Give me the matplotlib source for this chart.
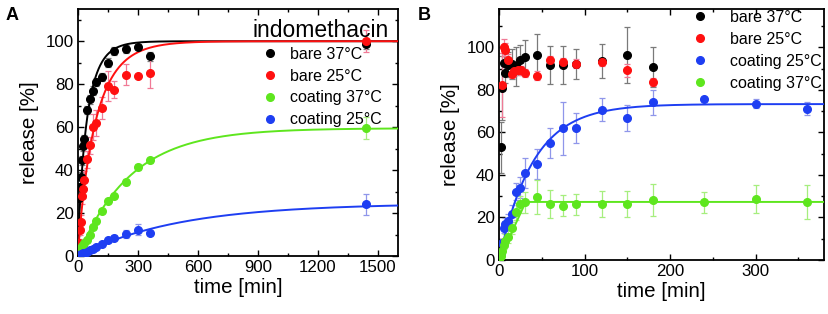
import numpy as np
import matplotlib
matplotlib.use("Agg")
import matplotlib.pyplot as plt
from matplotlib.ticker import MultipleLocator

plt.rcParams['font.family'] = ['Liberation Sans', 'DejaVu Sans']

# ---------------- Panel A data (indomethacin) ----------------
tA = [5, 10, 15, 20, 25, 30, 45, 60, 75, 90, 120, 150, 180, 240, 300, 360, 1440]
bare37_A = [27, 32, 37, 44.5, 51, 54.5, 68, 73, 77, 81, 83.4, 90, 95.5, 96.4, 97.5, 93, 98.5]
bare37_A_err = [2, 2, 2, 2, 2, 2, 2, 2, 2, 2, 2, 2, 2, 2, 1, 2, 2]
bare25_A = [6, 12, 16, 28, 31, 35.5, 45, 51.5, 60, 62, 69, 79, 77.5, 84.5, 83.8, 85.3, 100]
bare25_A_err = [2, 2, 3, 4, 4, 4, 4, 4, 6, 6, 5, 7, 4, 5, 0, 7, 5]
coat37_A = [1.5, 2.5, 3.5, 4.5, 5, 6, 7.5, 10, 13.5, 16.5, 21, 25.5, 28, 34.5, 41.5, 44.5, 59.5]
coat37_A_err = [0.5, 0.5, 0.5, 0.5, 0.5, 0.5, 0.5, 0.5, 1, 1, 1, 1, 1, 1.5, 1.5, 1, 5]
coat25_A = [0.3, 0.6, 0.8, 1, 1.2, 1.4, 2, 2.7, 3.3, 4, 5.6, 7.3, 8.6, 10.3, 12.2, 10.8, 24]
coat25_A_err = [0.2, 0.2, 0.2, 0.2, 0.2, 0.2, 0.3, 0.3, 0.5, 0.5, 0.5, 0.8, 1, 2, 2.5, 1, 5]

# fit parameters (plateau, rate, shape) of the fitted release curves
fitA_bare37 = (100, 0.0226, 0.85)
fitA_bare25 = (100, 0.0112, 0.90)
fitA_coat37 = (59.5, 0.0038, 1.0)
fitA_coat25 = (24.5, 0.0020, 1.0)

# ---------------- Panel B data ----------------
tB_bare37 = [2, 4, 5.5, 7.5, 10, 15, 20, 25, 30, 45, 60, 75, 90, 120, 150, 180]
bare37_B = [53, 81, 92.5, 88, 91.8, 92, 91, 94, 95.5, 96.6, 91.8, 91.8, 92.3, 93.7, 96.4, 90.6]
bare37_B_err = [12, 15, 5, 5, 6, 7, 9, 7, 8, 9.5, 9, 9, 7, 8, 13, 9.5]
tB_bare25 = [3.5, 5.5, 7.5, 10, 15, 18, 22, 26, 30, 45, 60, 75, 90, 120, 150, 180]
bare25_B = [82.4, 100, 98.9, 93.9, 87.6, 88.7, 89.5, 89.2, 87.9, 86.7, 93.9, 93.1, 92.3, 93.1, 89.2, 83.7]
bare25_B_err = [15, 4, 3, 3, 2, 2, 2, 2, 2, 2, 2, 2, 2, 2, 3, 2]
tB_coat = [0, 2, 3.5, 5.5, 7.5, 10, 15, 20, 25, 30, 45, 60, 75, 90, 120, 150, 180, 240, 300, 360]
coat25_B = [0, 3.1, 7.8, 14.9, 16.8, 18.4, 21.7, 32.2, 34, 40.8, 45.2, 55, 62, 62, 70.7, 66.7, 74.1, 75.7, 73.5, 71.1]
coat25_B_err = [0, 1, 2, 2, 3, 3, 4, 4, 5, 7, 7, 7, 12.5, 7, 5.5, 6, 6, 1, 2, 3]
coat37_B = [0, 2, 4, 7, 9, 11, 15, 22.8, 26.2, 27.2, 29.8, 26.4, 25.6, 26.2, 26.4, 26.4, 28.3, 27.2, 28.7, 27.2]
coat37_B_err = [0, 1, 2, 2, 3, 3, 3, 4, 4, 5, 8, 6.5, 5, 5, 6, 6, 7.5, 5, 6.5, 8]

fitB_coat25 = (73.3, 0.025, 1.0)
fitB_coat37 = (27.3, 30.0)   # plateau, time at which plateau is reached (zero-order)

# ---------------- colours ----------------
c_black, c_red, c_green, c_blue = '#000000', '#ff1010', '#5ee61e', '#1e3ef2'
e_black, e_red, e_green, e_blue = '#7a7a7a', '#f07a96', '#a6ee7e', '#8f96ea'

def release(t, p):
    P, k, b = p
    return P * (1 - np.exp(-(k * t) ** b))

W, H = 829, 314
fig = plt.figure(figsize=(W / 100, H / 100), dpi=100)
axA = fig.add_axes([78/W, 58/H, 320/W, 247/H])
axB = fig.add_axes([499/W, 54/H, 325/W, 251/H])

ms = 5.5

def series(ax, t, y, err, col, ecol, label):
    ax.errorbar(t, y, yerr=err, fmt='none', ecolor=ecol, elinewidth=0.9,
                capsize=2, capthick=0.9, zorder=2)
    ax.plot(t, y, 'o', color=col, ms=ms, zorder=4, label=label, mec=col)

# Panel A
tt = np.linspace(0, 1600, 1601)
axA.plot(tt, release(tt, fitA_bare37), color=c_black, lw=1.4, zorder=3)
axA.plot(tt, release(tt, fitA_bare25), color=c_red, lw=1.4, zorder=3)
axA.plot(tt, release(tt, fitA_coat37), color=c_green, lw=1.4, zorder=3)
axA.plot(tt, release(tt, fitA_coat25), color=c_blue, lw=1.4, zorder=3)
series(axA, tA, bare37_A, bare37_A_err, c_black, e_black, 'bare 37°C')
series(axA, tA, bare25_A, bare25_A_err, c_red, e_red, 'bare 25°C')
series(axA, tA, coat37_A, coat37_A_err, c_green, e_green, 'coating 37°C')
series(axA, tA, coat25_A, coat25_A_err, c_blue, e_blue, 'coating 25°C')
axA.set_xlim(0, 1600)
axA.set_ylim(0, 115)
axA.xaxis.set_major_locator(MultipleLocator(300))
axA.xaxis.set_minor_locator(MultipleLocator(150))
axA.text(389/W, 1 - 19/H, 'indomethacin', transform=fig.transFigure, ha='right', va='top', fontsize=16.5)
axA.legend(loc='upper left', bbox_to_anchor=(260/W, 1 - 47/H), bbox_transform=fig.transFigure,
           frameon=False, fontsize=11.5, handletextpad=0.65, labelspacing=0.42, handlelength=1.25,
           borderaxespad=0, borderpad=0)

# Panel B
tb = np.linspace(0, 380, 761)
axB.plot(tb, release(tb, fitB_coat25), color=c_blue, lw=1.4, zorder=3)
P37, T37 = fitB_coat37
axB.plot(tb, np.where(tb < T37, P37 * 0.96 * tb / T37, P37), color=c_green, lw=1.4, zorder=3)
series(axB, tB_bare37, bare37_B, bare37_B_err, c_black, e_black, 'bare 37°C')
series(axB, tB_bare25, bare25_B, bare25_B_err, c_red, e_red, 'bare 25°C')
series(axB, tB_coat, coat25_B, coat25_B_err, c_blue, e_blue, 'coating 25°C')
series(axB, tB_coat, coat37_B, coat37_B_err, c_green, e_green, 'coating 37°C')
axB.set_xlim(0, 380)
axB.set_ylim(0, 118)
axB.xaxis.set_major_locator(MultipleLocator(100))
axB.xaxis.set_minor_locator(MultipleLocator(50))
axB.legend(loc='upper left', bbox_to_anchor=(690/W, 1 - 10/H), bbox_transform=fig.transFigure,
           frameon=False, fontsize=11.5, handletextpad=1.25, labelspacing=0.44, handlelength=1.25,
           borderaxespad=0, borderpad=0)

for ax in (axA, axB):
    ax.yaxis.set_major_locator(MultipleLocator(20))
    ax.yaxis.set_minor_locator(MultipleLocator(10))
    ax.tick_params(which='both', direction='in', top=True, right=True, labelsize=12.2, width=1.0)
    ax.tick_params(which='major', length=4, pad=3)
    ax.tick_params(which='minor', length=2.5)
    for s in ax.spines.values():
        s.set_linewidth(1.3)
    ax.set_xlabel('time [min]', fontsize=14.8, labelpad=2)
    ax.set_ylabel('release [%]', fontsize=14.8, labelpad=5)

fig.text(12/W, 1 - 16/H, 'A', fontsize=13, fontweight='bold', va='center', ha='center')
fig.text(424/W, 1 - 15/H, 'B', fontsize=13, fontweight='bold', va='center', ha='center')

fig.savefig('out.png', dpi=100)
